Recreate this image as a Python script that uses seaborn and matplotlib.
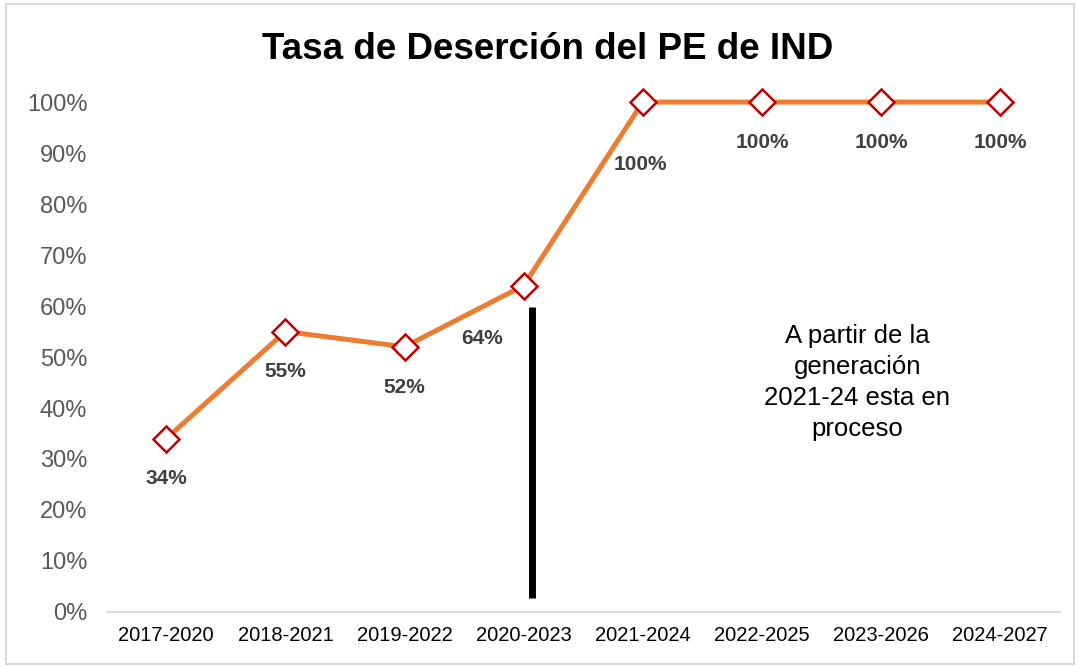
import matplotlib
matplotlib.use("Agg")
import matplotlib.pyplot as plt
import seaborn as sns
import pandas as pd
from matplotlib.patches import Rectangle

# Daten
generaciones = ["2017-2020", "2018-2021", "2019-2022", "2020-2023",
                "2021-2024", "2022-2025", "2023-2026", "2024-2027"]
tasa = [0.34, 0.55, 0.52, 0.64, 1.00, 1.00, 1.00, 1.00]
etiquetas = ["34%", "55%", "52%", "64%", "100%", "100%", "100%", "100%"]
y_ticks = [0.0, 0.1, 0.2, 0.3, 0.4, 0.5, 0.6, 0.7, 0.8, 0.9, 1.0]

titulo = "Tasa de Deserción del PE de IND"
nota = "A partir de la\ngeneración\n2021-24 esta en\nproceso"

df = pd.DataFrame({"gen": generaciones, "tasa": tasa})

sns.set_style("white")
plt.rcParams["font.family"] = ["Liberation Sans", "DejaVu Sans"]

fig = plt.figure(figsize=(10.78, 6.67), dpi=100)
ax = fig.add_axes([0.099, 0.0825, 0.884, 0.7645])

sns.lineplot(data=df, x="gen", y="tasa", sort=False, ax=ax,
             color="#ED7D31", linewidth=3.6, marker="D", markersize=13,
             markerfacecolor="white", markeredgecolor="#C00000",
             markeredgewidth=1.8, clip_on=False, zorder=3)

# Datenbeschriftungen (Offsets in Punkten)
offsets = [(0, -29), (0, -29), (0, -29), (-30, -38),
           (-2, -45), (0, -29), (0, -29), (0, -29)]
for i, (v, lab) in enumerate(zip(tasa, etiquetas)):
    ax.annotate(lab, (i, v), xytext=offsets[i], textcoords="offset points",
                ha="center", va="center", fontsize=15, fontweight="bold",
                color="#404040")

# schwarze Trennlinie bei 2020-2023
x_linea = generaciones.index("2020-2023") + 0.07
ax.plot([x_linea, x_linea], [0.027, 0.598], color="black", linewidth=5,
        solid_capstyle="butt", zorder=2)

ax.text(5.8, 0.45, nota, ha="center", va="center", fontsize=18.5,
        linespacing=1.38, color="black")

ax.set_xlim(-0.5, len(generaciones) - 0.5)
ax.set_ylim(0, 1.0)
ax.set_yticks(y_ticks)
ax.set_yticklabels([f"{int(round(t * 100))}%" for t in y_ticks])
ax.tick_params(axis="y", length=0, pad=14, labelsize=17, labelcolor="#595959")
ax.tick_params(axis="x", length=0, pad=10, labelsize=14.5, labelcolor="black")
ax.set_xlabel("")
ax.set_ylabel("")

for s in ["top", "right", "left"]:
    ax.spines[s].set_visible(False)
ax.spines["bottom"].set_color("#D9D9D9")
ax.spines["bottom"].set_linewidth(1.5)

fig.text(0.508, 0.926, titulo, ha="center", va="center", fontsize=26.5,
         fontweight="bold", color="black")

fig.patches.append(Rectangle((0.006, 0.004), 0.99, 0.99, transform=fig.transFigure,
                             fill=False, edgecolor="#D9D9D9", linewidth=1.5))

fig.savefig("out.png", dpi=100)
